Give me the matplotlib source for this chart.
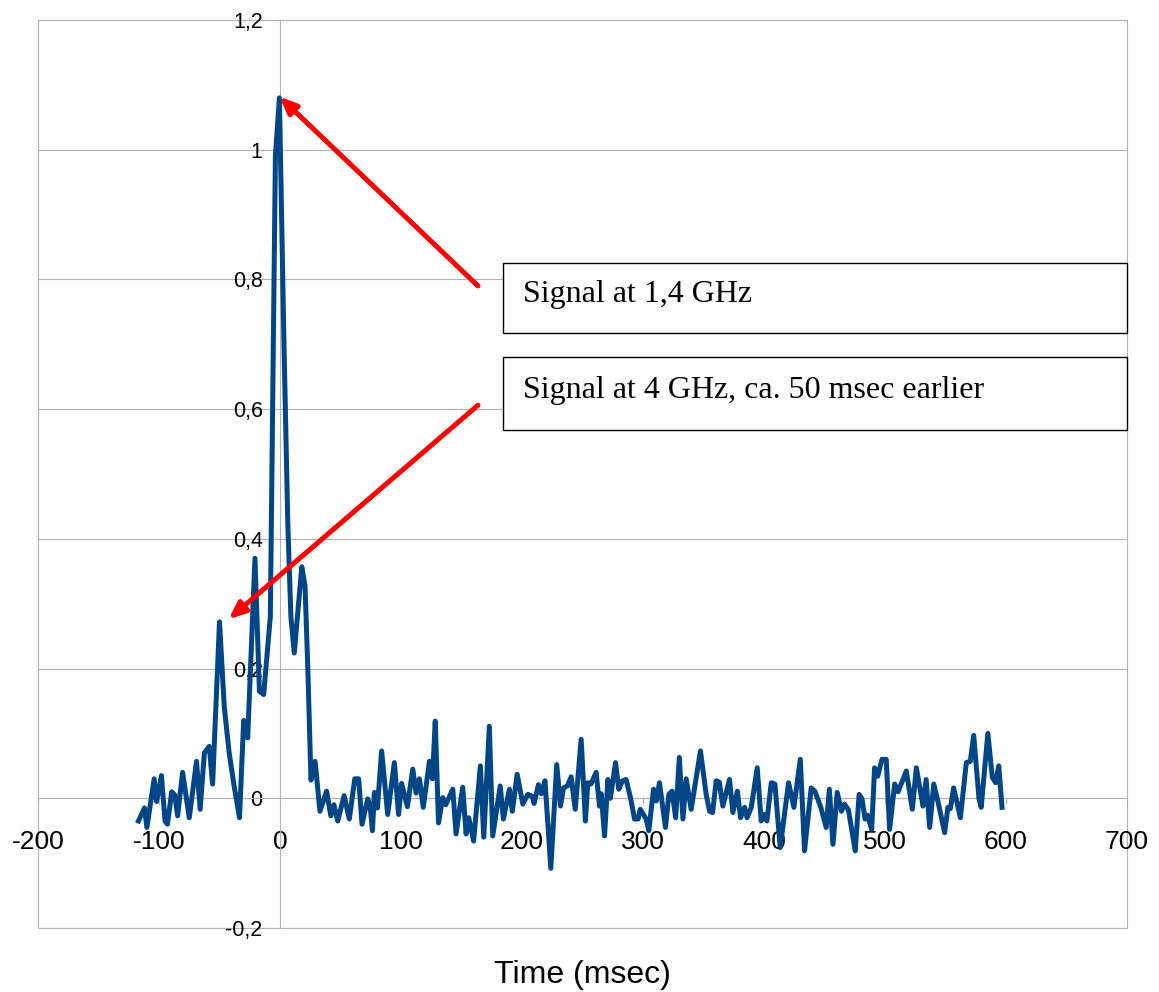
import matplotlib
matplotlib.use("Agg")
import matplotlib.pyplot as plt
from matplotlib.patches import Rectangle
from matplotlib.ticker import FuncFormatter

plt.rcParams["font.family"] = ["Liberation Sans", "DejaVu Sans"]
plt.rcParams["axes.unicode_minus"] = False

# Signal trace (time in msec, relative amplitude)
time_ms = [
    -117, -112, -110, -104, -102, -98, -95, -93, -89.5, -87, -84.6, -80.5, -75, -69, -66,
    -62.5, -58.5, -55.7, -50, -46, -42, -38, -33.5, -30, -26.7, -20.7, -17, -13.5, -8,
    -3.8, -0.5, 3.5, 6.5, 9, 11.8, 18, 20.7, 23, 25.6, 29, 33, 38.5, 42, 44.6, 47.7, 53,
    57.3, 61.8, 65, 67.8, 72.5, 74.5, 76.4, 78, 80.5, 84, 89, 94.5, 98, 100.5, 105.3,
    109.7, 112.5, 115.2, 118.4, 123.5, 126, 128.3, 131, 134.5, 137, 142.8, 145.5, 151,
    153.8, 156, 160, 165.6, 168.4, 173, 175.8, 182, 184.6, 189.6, 192, 196, 200.7, 204.8,
    208.5, 210, 213.6, 216, 219, 223.8, 228.7, 231.8, 234.3, 237.5, 240.6, 244, 248.9,
    252.4, 254.4, 257, 261.3, 264, 265.5, 268.2, 271, 273, 277.3, 280, 283, 286, 290, 293,
    296, 297.7, 302.6, 304.8, 308.7, 311, 313.6, 318.6, 321.4, 324, 327, 330, 333, 335.7,
    339.8, 347.5, 352.2, 355, 357.5, 360.5, 363, 366, 371.5, 374.3, 378, 380.6, 384, 386,
    389.5, 394.4, 397.7, 400, 402.4, 406, 409, 413.4, 420.3, 424.7, 430, 433.5, 439, 442,
    447, 451.4, 454, 457, 460.5, 464, 466.5, 469.8, 475.4, 478.6, 481, 483.5, 485.5, 489,
    491.4, 494, 497.5, 501, 503.8, 508, 510.8, 517.6, 522.6, 525.9, 531.4, 534, 536.9,
    540.3, 544, 549.3, 552, 554, 556.7, 562.3, 567.2, 570.5, 573.3, 577.7, 579.5, 585,
    588.7, 591.5, 594, 596.7,
]
signal = [
    -0.035, -0.015, -0.045, 0.03, -0.005, 0.035, -0.035, -0.04, 0.01, 0.005, -0.027, 0.04,
    -0.03, 0.057, -0.017, 0.07, 0.08, 0.022, 0.272, 0.14, 0.07, 0.02, -0.03, 0.12, 0.093,
    0.37, 0.165, 0.16, 0.28, 0.99, 1.08, 0.68, 0.42, 0.28, 0.224, 0.357, 0.327, 0.2, 0.028,
    0.057, -0.02, 0.011, -0.027, -0.01, -0.035, 0.004, -0.032, 0.03, 0.03, -0.04, -0.001,
    -0.012, -0.05, 0.009, -0.015, 0.073, -0.025, 0.055, -0.025, 0.023, -0.013, 0.045,
    0.008, 0.03, -0.014, 0.057, 0.03, 0.119, -0.038, 0.001, -0.01, 0.014, -0.055, 0.017,
    -0.055, -0.03, -0.066, 0.05, -0.06, 0.111, -0.058, 0.019, -0.032, 0.014, -0.02, 0.037,
    -0.009, 0.006, 0.003, -0.008, 0.021, 0.007, 0.027, -0.108, 0.052, -0.012, 0.016,
    0.019, 0.033, -0.017, 0.091, -0.035, 0.024, 0.022, 0.04, -0.012, 0.007, -0.058, 0.029,
    0.0, 0.055, 0.014, 0.027, 0.029, -0.002, -0.032, -0.032, -0.017, -0.032, -0.05, 0.014,
    -0.004, 0.024, -0.045, 0.006, 0.011, -0.03, 0.063, -0.032, 0.03, -0.017, 0.073, 0.006,
    -0.02, -0.022, 0.027, 0.025, -0.012, 0.029, -0.022, 0.011, -0.03, -0.014, -0.03,
    -0.014, 0.047, -0.035, -0.025, -0.035, 0.024, 0.022, -0.076, 0.024, -0.014, 0.06,
    -0.081, 0.016, 0.011, -0.014, -0.045, 0.014, -0.071, 0.009, -0.02, -0.009, -0.018,
    -0.081, 0.006, -0.001, -0.032, -0.026, -0.048, 0.047, 0.034, 0.06, 0.06, -0.048,
    0.022, 0.01, 0.042, -0.017, 0.047, -0.012, 0.029, -0.045, 0.022, -0.007, -0.053,
    -0.014, -0.016, 0.016, -0.03, 0.055, 0.057, 0.097, -0.001, -0.014, 0.1, 0.032, 0.024,
    0.05, -0.014,
]

x_ticks = [-200, -100, 0, 100, 200, 300, 400, 500, 600, 700]
y_ticks = [-0.2, 0, 0.2, 0.4, 0.6, 0.8, 1.0, 1.2]

label_high = "Signal at 1,4 GHz"
label_low = "Signal at 4 GHz, ca. 50 msec earlier"

grid_gray = "#b3b3b3"


def comma_fmt(v, pos):
    s = f"{v:.1f}".rstrip("0").rstrip(".")
    if s == "-0":
        s = "0"
    return s.replace(".", ",")


fig = plt.figure(figsize=(11.59, 9.92), dpi=100)
ax = fig.add_axes([38 / 1159, 1 - 928 / 992, 1089 / 1159, 908 / 992])

ax.plot(time_ms, signal, color="#004586", linewidth=3.6, solid_joinstyle="round", zorder=3)

ax.set_xlim(-200, 700)
ax.set_ylim(-0.2, 1.2)
ax.set_xticks(x_ticks)
ax.set_yticks(y_ticks)
ax.yaxis.set_major_formatter(FuncFormatter(comma_fmt))

# horizontal grid only; axes cross at the origin
ax.grid(axis="y", color=grid_gray, linewidth=0.8)
ax.set_axisbelow(True)
for side in ["top", "right"]:
    ax.spines[side].set_visible(False)
ax.spines["left"].set_position(("data", 0))
ax.spines["bottom"].set_position(("data", 0))
ax.spines["left"].set_color(grid_gray)
ax.spines["bottom"].set_color(grid_gray)
ax.spines["left"].set_linewidth(0.8)
ax.spines["bottom"].set_linewidth(0.8)

# outer frame of the plot area
ax.add_patch(Rectangle((0, 0), 1, 1, transform=ax.transAxes, fill=False,
                       edgecolor=grid_gray, linewidth=0.8, clip_on=False, zorder=0))

ax.tick_params(axis="x", direction="out", length=4, color=grid_gray, pad=19,
               labelsize=19)
ax.tick_params(axis="y", length=0, pad=12.5, labelsize=15.5)

# annotation boxes
for y0, y1, txt in [(0.717, 0.826, label_high), (0.568, 0.680, label_low)]:
    ax.add_patch(Rectangle((184.3, y0), 700 - 184.3, y1 - y0, facecolor="white",
                           edgecolor="black", linewidth=1, zorder=4, clip_on=False))
    ax.text(200.8, (y0 + y1) / 2 + 0.005, txt, family=["Liberation Serif", "DejaVu Serif"],
            fontsize=23, va="center", ha="left", zorder=5)

arrow_style = dict(arrowstyle="-|>,head_length=1.0,head_width=0.42", color="#ff0000",
                   lw=3.6, shrinkA=0, shrinkB=0)
ax.annotate("", xy=(-0.5, 1.082), xytext=(163.6, 0.79), arrowprops=arrow_style, zorder=6)
ax.annotate("", xy=(-42.5, 0.276), xytext=(163.6, 0.606), arrowprops=arrow_style, zorder=6)

fig.text(582 / 1159, 1 - 975 / 992, "Time (msec)", fontsize=23, ha="center", va="center")

fig.savefig("out.png", dpi=100)
